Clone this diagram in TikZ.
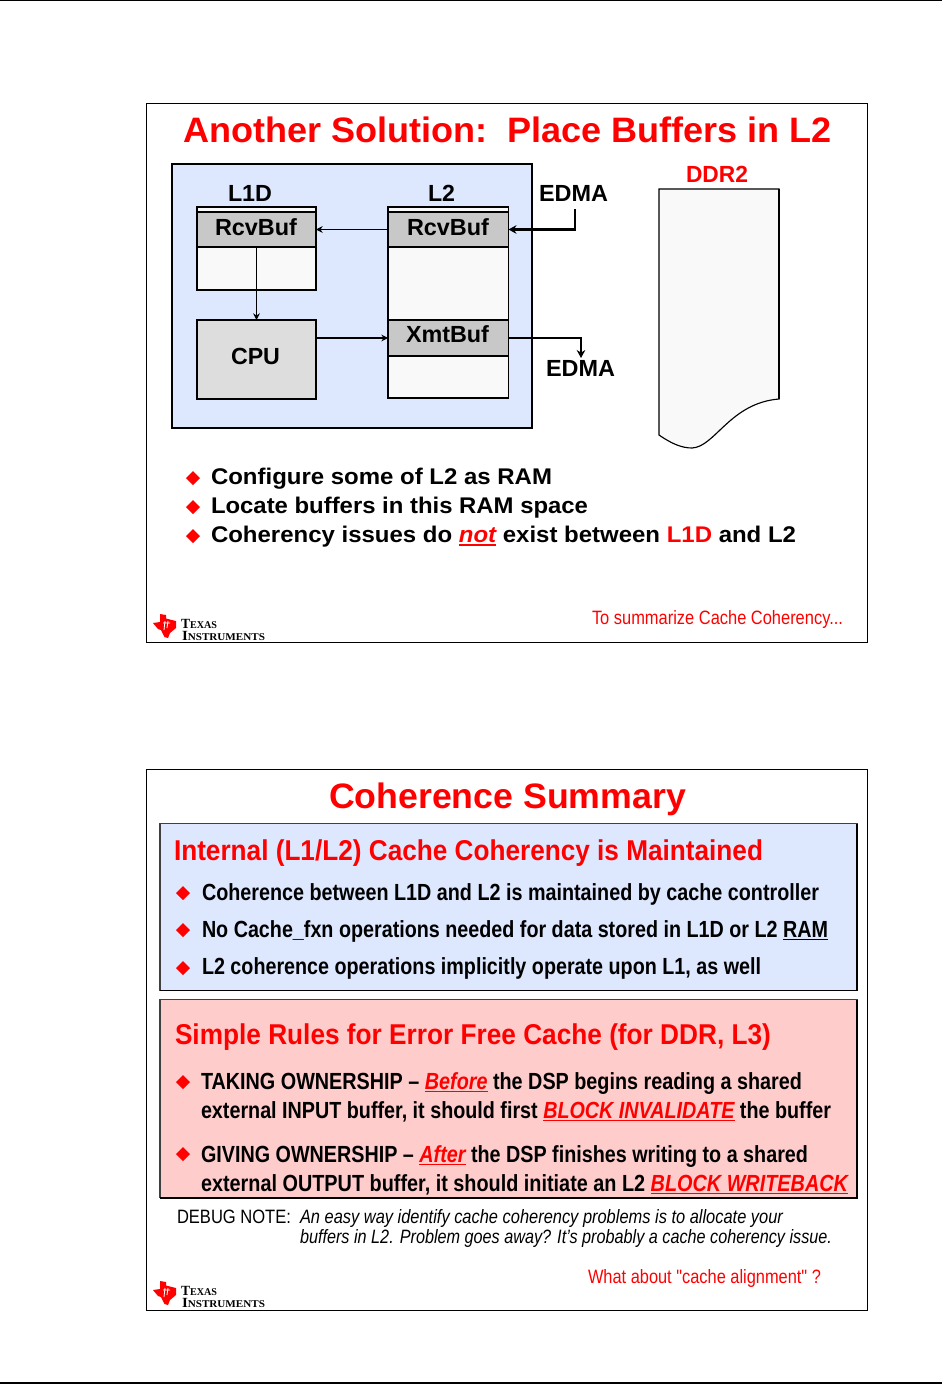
\documentclass[tikz,border=0pt]{standalone}
\usepackage{graphicx}
\usepackage{fontspec}
\usepackage{xcolor}
\usetikzlibrary{arrows.meta}
\newfontfamily\lib{Liberation Sans}
\newfontfamily\libs{Liberation Serif}
\definecolor{slideblue}{HTML}{DDE8FF}
\definecolor{slidepink}{HTML}{FFCCCC}
\definecolor{bufgrey}{HTML}{C8C8C8}
\definecolor{cpugrey}{HTML}{DDDDDD}
\definecolor{cellwhite}{HTML}{F9F9F9}
\definecolor{edgegrey}{HTML}{404040}
\newcommand\redul[1]{\leavevmode\sbox0{\textcolor{red}{#1}}\rlap{\textcolor{red}{\rule[-2.4pt]{\wd0}{1.1pt}}}\usebox{0}}
\newcommand\blackul[1]{\leavevmode\sbox0{#1}\rlap{\rule[-2.4pt]{\wd0}{0.9pt}}\usebox{0}}
% name, left x, baseline y, width, font, text
\newcommand\tx[6]{\node[lbl] (#1) at (#2,#3) {\resizebox{\dimexpr #4pt*3/4\relax}{\height}{#5#6}};}
% name, x1, y1, x2, y2, style
\newcommand\bx[6]{\node[boxed,#6,minimum width={(#4-#2)*0.75pt},minimum height={(#5-#3)*0.75pt}] (#1) at ({(#2+#4)/2},{(#3+#5)/2}) {};}
\newcommand\dia[2]{\fill[red] (#1-7,#2) -- (#1,#2-7) -- (#1+7,#2) -- (#1,#2+7) -- cycle;}
\newcommand\tilogo[3]{%
  \begin{scope}[shift={(0,#1)}]
    \fill[red] (153,623) -- (160,622) -- (160,614) -- (166,615) -- (166,618.5) -- (176,621) -- (176,628) -- (170,633) -- (168,638) -- (164.5,637) -- (161,630) -- (158,629) -- (155.5,626) -- cycle;
    \draw[white,line width=0.6pt] (165,621) -- (164,630) (168,621) -- (167,628) (163,623) -- (170,623);
  \end{scope}
  \tx{#2}{181}{#3}{36}{\libs\bfseries}{{\fontsize{10.5pt}{11pt}\selectfont T}{\fontsize{7.8pt}{9pt}\selectfont EXAS}}
  \tx{#2b}{182}{#3+12}{83}{\libs\bfseries}{{\fontsize{10.5pt}{11pt}\selectfont I}{\fontsize{7.8pt}{9pt}\selectfont NSTRUMENTS}}
}
\tikzset{
  lbl/.style={anchor=base west,inner sep=0pt,outer sep=0pt},
  boxed/.style={draw=black,line width=0.95pt,inner sep=0pt,outer sep=0pt,anchor=center},
  frame/.style={draw=black,line width=0.75pt,fill=white},
  thinarrow/.style={draw=black,line width=0.8pt,-{Stealth[length=5pt,width=5pt]}},
  thickarrow/.style={draw=black,line width=1.6pt,-{Stealth[length=6pt,width=6.5pt]}},
  sharp/.style={line join=miter},
}
\newcommand\ftitle{\lib\bfseries\fontsize{26.5pt}{30pt}\selectfont}
\newcommand\flabel{\lib\bfseries\fontsize{17.5pt}{20pt}\selectfont}
\newcommand\fbul{\lib\bfseries\fontsize{17pt}{20pt}\selectfont}
\newcommand\fhead{\lib\bfseries\fontsize{21.5pt}{24pt}\selectfont}
\newcommand\fline{\lib\bfseries\fontsize{17.5pt}{20pt}\selectfont}
\newcommand\fnote{\lib\fontsize{14.5pt}{17pt}\selectfont}
\newcommand\fnoteit{\lib\itshape\fontsize{14.5pt}{17pt}\selectfont}
\begin{document}
\begin{tikzpicture}[x=0.75pt,y=-0.75pt]
\useasboundingbox (0,0) rectangle (942,1384);
\fill[white] (0,0) rectangle (942,1384);
\fill[black] (0,0) rectangle (942,1);
\fill[black] (0,1382) rectangle (942,1384);

% ---------- slide 1 ----------
\bx{frameA}{146.5}{103.5}{867.5}{642.5}{frame}
\tx{titleA}{183}{142.2}{649}{\color{red}\ftitle}{Another Solution:\ \ Place Buffers in L2}
\bx{chip}{172}{164}{532}{428}{fill=slideblue}
\tx{lonedlabel}{228}{201}{44}{\flabel}{L1D}
\tx{ltwolabel}{428}{201}{27}{\flabel}{L2}
\bx{lone}{197}{207}{316}{290}{fill=cellwhite}
\bx{lonercv}{197}{212}{316}{247}{fill=bufgrey}
\tx{lonercvt}{215}{235}{82}{\flabel}{RcvBuf}
\bx{ltwo}{388}{207}{508.5}{398}{fill=cellwhite}
\bx{ltwercv}{388}{212}{508.5}{247}{fill=bufgrey}
\tx{ltwercvt}{407}{235}{82}{\flabel}{RcvBuf}
\bx{xmt}{388}{320}{508.5}{356}{fill=bufgrey}
\tx{xmtt}{406}{342}{83}{\flabel}{XmtBuf}
\bx{cpu}{197}{320}{316}{399}{fill=cpugrey}
\tx{cput}{231}{364}{49}{\flabel}{CPU}
\tx{edmaa}{539}{201}{69}{\flabel}{EDMA}
\tx{edmab}{546}{376}{69}{\flabel}{EDMA}
\coordinate (edmastart) at (575,209);
\coordinate (edmaend) at (581,358);
\draw[thinarrow] (ltwercv.west) -- (lonercv.east);
\draw[thinarrow] (lonercv.south) -- (cpu.north);
\draw[thinarrow] (cpu.east |- xmt.west) -- (xmt.west);
\draw[thickarrow,sharp] (edmastart) |- (ltwercv.east);
\draw[thickarrow,sharp] (xmt.east) -| (edmaend);
\tx{ddrlabel}{686}{182}{62}{\color{red}\flabel}{DDR2}
\draw[black,line width=0.85pt,fill=cellwhite,sharp] (659,189) -- (779,189) -- (779,399)
  .. controls (730,403) and (715,447) .. (692,448)
  .. controls (682,448) and (672,444) .. (659,435) -- cycle;
\draw[black,line width=1.5pt] (779,189) -- (779,399);
\dia{193}{478}\dia{193}{507}\dia{193}{536}
\tx{bulletaa}{211}{484.5}{341}{\fbul}{Configure some of L2 as RAM}
\tx{bulletab}{211}{513.5}{377}{\fbul}{Locate buffers in this RAM space}
\tx{bulletac}{211}{542.5}{585}{\fbul}{Coherency issues do \redul{\itshape not} exist between {\color{red}L1D} and L2}
\tx{nextA}{592}{624}{251}{\color{red}\fnote}{To summarize Cache Coherency...}
\tilogo{0}{logoA}{628}

% ---------- slide 2 ----------
\bx{frameB}{146.5}{769.5}{867.5}{1310.5}{frame}
\tx{titleB}{329}{808.5}{357}{\color{red}\ftitle}{Coherence Summary}
\bx{bluebox}{160}{823.5}{857}{990.5}{fill=slideblue,draw=edgegrey}
\draw[black,line width=1.3pt] (bluebox.north east) -- (bluebox.south east) -- (bluebox.south west);
\tx{headblue}{174}{860}{589}{\color{red}\fhead}{Internal (L1/L2) Cache Coherency is Maintained}
\dia{183}{893}\dia{183}{930}\dia{183}{968}
\tx{bulletba}{202}{900}{617}{\fline}{Coherence between L1D and L2 is maintained by cache controller}
\tx{bulletbb}{202}{937}{626}{\fline}{No Cache\_fxn operations needed for data stored in L1D or L2 \blackul{RAM}}
\tx{bulletbc}{202}{974}{559}{\fline}{L2 coherence operations implicitly operate upon L1, as well}
\bx{pinkbox}{160}{999.5}{857}{1197.5}{fill=slidepink,draw=edgegrey}
\draw[black,line width=1.5pt] (pinkbox.north east) -- (pinkbox.south east) -- (pinkbox.south west);
\tx{headpink}{175}{1044}{596}{\color{red}\fhead}{Simple Rules for Error Free Cache (for DDR, L3)}
\dia{183}{1082}\dia{183}{1154}
\tx{rulea}{201}{1089}{601}{\fline}{TAKING OWNERSHIP – \redul{\itshape Before} the DSP begins reading a shared}
\tx{ruleb}{201}{1118}{630}{\fline}{external INPUT buffer, it should first \redul{\itshape BLOCK INVALIDATE} the buffer}
\tx{rulec}{201}{1162}{607}{\fline}{GIVING OWNERSHIP – \redul{\itshape After} the DSP finishes writing to a shared}
\tx{ruled}{201}{1191}{647}{\fline}{external OUTPUT buffer, it should initiate an L2 \redul{\itshape BLOCK WRITEBACK}}
\tx{debug}{177}{1223}{114}{\fnote}{DEBUG NOTE:}
\tx{notea}{300}{1223}{483}{\fnoteit}{An easy way identify cache coherency problems is to allocate your}
\tx{noteb}{300}{1243}{532}{\fnoteit}{buffers in L2. Problem goes away? It’s probably a cache coherency issue.}
\tx{nextB}{588}{1283}{233}{\color{red}\fnote}{What about "cache alignment" ?}
\tilogo{667}{logoB}{1295}
\end{tikzpicture}
\end{document}
